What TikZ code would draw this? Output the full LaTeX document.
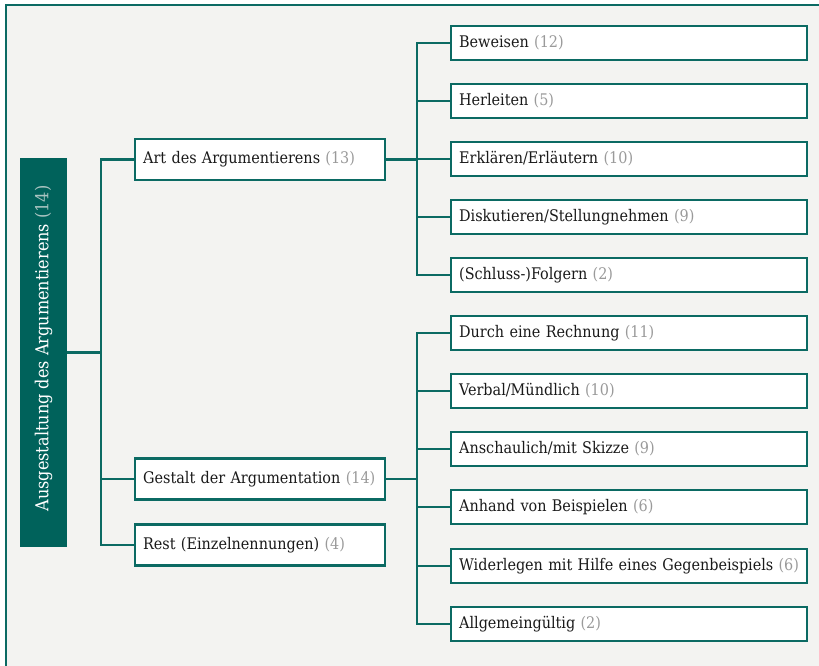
\documentclass[tikz,border=0pt]{standalone}
\usepackage{fontspec}
\setmainfont{DejaVu Serif Condensed}
\definecolor{tealc}{HTML}{0B6A63}
\definecolor{rootfill}{HTML}{00625B}
\definecolor{panel}{HTML}{F3F3F1}
\definecolor{countc}{HTML}{9A9A9A}
\definecolor{rootcount}{HTML}{A9C4C1}
\definecolor{inkc}{HTML}{1A1A1A}
\newcommand{\cnt}[1]{\textcolor{countc}{(#1)}}
\begin{document}
\begin{tikzpicture}[x=1pt,y=-1pt,
  conn/.style={draw=tealc, line width=2.3pt},
  basebox/.style={draw=tealc, line width=2.3pt, fill=white, anchor=west,
    text=inkc, inner xsep=8pt, inner ysep=0pt, align=left,
    font=\fontsize{16}{19}\selectfont},
  lonebox/.style={basebox, text width=234pt, minimum height=41pt},
  ltwobox/.style={basebox, text width=340pt, minimum height=34pt},
  rootbox/.style={fill=rootfill, text=white, inner sep=0pt,
    minimum width=47pt, minimum height=389pt,
    font=\fontsize{17.9}{22}\selectfont}]
\useasboundingbox (0,0) rectangle (819,666);
\begin{scope}
  \clip (0,0) rectangle (819,666);
  \fill[panel] (6,4.8) rectangle (840,690);
  \draw[tealc, line width=2.3pt] (6,4.8) rectangle (840,690);
\end{scope}

% root
\node[rootbox] (root) at (43.5,352.5)
  {\rotatebox{90}{\hspace*{8pt}Ausgestaltung des Argumentierens \textcolor{rootcount}{(14)}}};

% first level
\node[lonebox] (art) at (134,159.5) {\mbox{Art des Argumentierens \cnt{13}}};
\node[lonebox] (gestalt) at (134,479) {\mbox{Gestalt der Argumentation \cnt{14}}};
\node[lonebox] (rest) at (134,545) {\mbox{Rest (Einzelnennungen) \cnt{4}}};

% second level: kinds of argumentation
\node[ltwobox] (beweisen) at (450,43) {\mbox{Beweisen \cnt{12}}};
\node[ltwobox] (herleiten) at (450,101) {\mbox{Herleiten \cnt{5}}};
\node[ltwobox] (erklaeren) at (450,159) {\mbox{Erklären/Erläutern \cnt{10}}};
\node[ltwobox] (diskutieren) at (450,217) {\mbox{Diskutieren/Stellungnehmen \cnt{9}}};
\node[ltwobox] (folgern) at (450,275) {\mbox{(Schluss-)Folgern \cnt{2}}};

% second level: forms of argumentation
\node[ltwobox] (rechnung) at (450,333) {\mbox{Durch eine Rechnung \cnt{11}}};
\node[ltwobox] (verbal) at (450,391) {\mbox{Verbal/Mündlich \cnt{10}}};
\node[ltwobox] (skizze) at (450,449) {\mbox{Anschaulich/mit Skizze \cnt{9}}};
\node[ltwobox] (beispiele) at (450,507) {\mbox{Anhand von Beispielen \cnt{6}}};
\node[ltwobox] (gegenbsp) at (450,566) {\mbox{Widerlegen mit Hilfe eines Gegenbeispiels \cnt{6}}};
\node[ltwobox] (allgemein) at (450,624) {\mbox{Allgemeingültig \cnt{2}}};

% junctions
\coordinate (j0) at (101,352.5);
\coordinate (j1) at (417,159.5);
\coordinate (j2) at (417,479);

\draw[conn] (root.east) -- (j0);
\foreach \n in {art,gestalt,rest} \draw[conn] (\n.west) -| (j0);

\draw[conn] (art.east) -- (j1);
\foreach \n in {beweisen,herleiten,erklaeren,diskutieren,folgern}
  \draw[conn] (\n.west) -| (j1);

\draw[conn] (gestalt.east) -- (j2);
\foreach \n in {rechnung,verbal,skizze,beispiele,gegenbsp,allgemein}
  \draw[conn] (\n.west) -| (j2);
\end{tikzpicture}
\end{document}
